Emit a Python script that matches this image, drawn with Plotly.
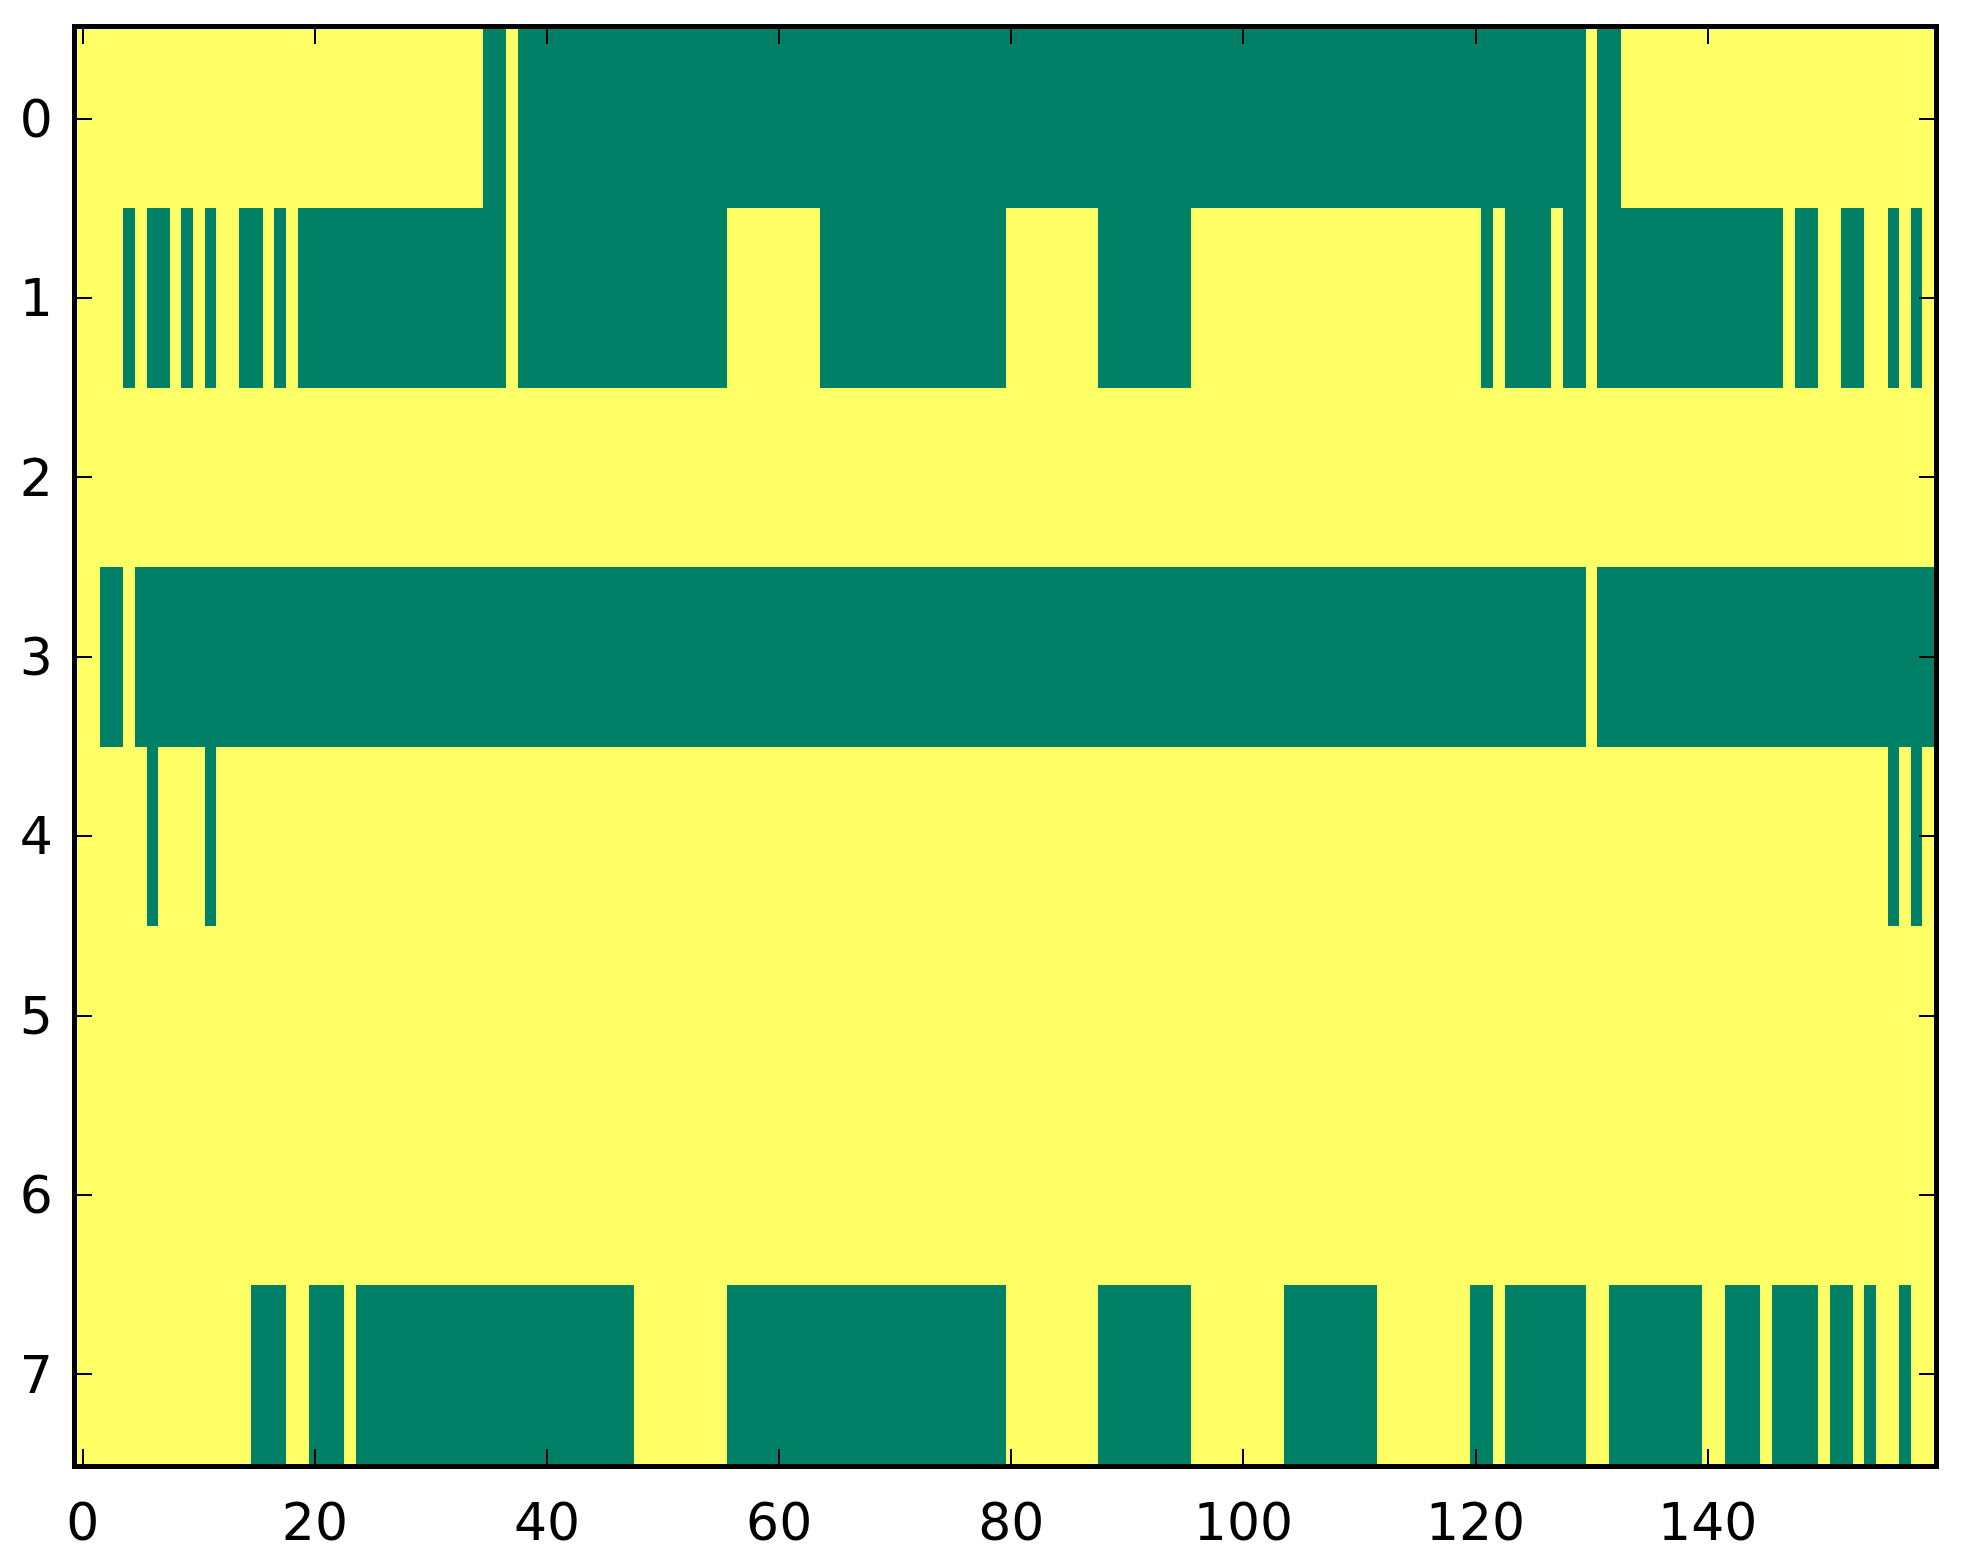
import numpy as np
import plotly.graph_objects as go

# image is 8 rows x 160 columns, two values only
n_rows = 8
n_cols = 160

# runs of "low" cells (drawn green) per row, as inclusive (first, last) column
row0_low = [(35, 36), (38, 129), (131, 132)]
row1_low = [(4, 4), (6, 7), (9, 9), (11, 11), (14, 15), (17, 17), (19, 36),
            (38, 55), (64, 79), (88, 95), (121, 121), (123, 126), (128, 129),
            (131, 146), (148, 149), (152, 153), (156, 156), (158, 158)]
row2_low = []
row3_low = [(2, 3), (5, 129), (131, 159)]
row4_low = [(6, 6), (11, 11), (156, 156), (158, 158)]
row5_low = []
row6_low = []
row7_low = [(15, 17), (20, 22), (24, 47), (56, 79), (88, 95), (104, 111),
            (120, 121), (123, 129), (132, 139), (142, 144), (146, 149),
            (151, 152), (154, 154), (157, 157)]

rows = [row0_low, row1_low, row2_low, row3_low,
        row4_low, row5_low, row6_low, row7_low]

x_ticks = [0, 20, 40, 60, 80, 100, 120, 140]
y_ticks = [0, 1, 2, 3, 4, 5, 6, 7]

# build the matrix: 1 everywhere, 0 inside the runs
z = np.ones((n_rows, n_cols))
for r, runs in enumerate(rows):
    for a, b in runs:
        z[r, a:b + 1] = 0

# matplotlib "summer"
summer = [[0.0, "#008066"], [1.0, "#ffff66"]]

fig = go.Figure(go.Heatmap(
    z=z,
    x=np.arange(n_cols),
    y=np.arange(n_rows),
    colorscale=summer,
    zmin=0, zmax=1,
    showscale=False,
))

axis_style = dict(
    showgrid=False,
    zeroline=False,
    showline=True,
    linecolor="black",
    linewidth=4.5,
    mirror="ticks",
    ticks="inside",
    ticklen=15,
    tickwidth=1.5,
    tickcolor="black",
    tickfont=dict(family="DejaVu Sans", size=52, color="black"),
)

fig.update_xaxes(range=[-0.5, n_cols - 0.5], tickvals=x_ticks,
                 ticklabelstandoff=9, **axis_style)
fig.update_yaxes(range=[n_rows - 0.5, -0.5], tickvals=y_ticks,
                 ticklabelstandoff=9, **axis_style)

# page body adds an 8px margin, so the figure is a bit smaller than the window
fig.update_layout(
    width=1955,
    height=1556,
    margin=dict(l=65, r=29, t=21, b=95),
    paper_bgcolor="white",
    plot_bgcolor="white",
)

fig.write_html("out.html")
